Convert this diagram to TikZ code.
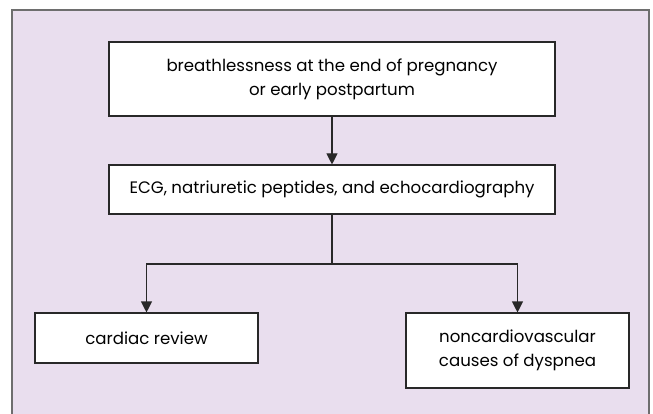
\documentclass[tikz,border=0pt]{standalone}
\usepackage{fontspec}
\setmainfont{Poppins}
\usetikzlibrary{arrows.meta,positioning}
\definecolor{lavender}{RGB}{233,222,238}
\definecolor{framegray}{RGB}{110,110,110}
\definecolor{boxline}{RGB}{40,40,40}
\tikzset{
  flowbox/.style={draw=boxline, fill=white, line width=1.1pt, align=center,
    inner sep=0pt, font=\fontsize{16.6}{24}\selectfont},
  flowarrow/.style={draw=boxline, line width=1.1pt, -{Triangle[length=11pt,width=11pt]}}
}
\begin{document}
\begin{tikzpicture}[x=1pt,y=-1pt]
\clip (0,0) rectangle (653,414);
\fill[white] (0,0) rectangle (653,414);
\draw[framegray, fill=lavender, line width=1.2pt] (12,10) rectangle (649,430);
\node[flowbox, minimum width=446pt, minimum height=74pt] (start) at (332,79)
  {breathlessness at the end of pregnancy\\or early postpartum};
\node[flowbox, minimum width=446pt, minimum height=49pt] (tests) at (332,189.5)
  {ECG, natriuretic peptides, and echocardiography};
\node[flowbox, minimum width=223pt, minimum height=50pt] (cardiac) at (146.5,338)
  {cardiac review};
\node[flowbox, minimum width=223pt, minimum height=75pt] (noncardiac) at (517.5,350.5)
  {noncardiovascular\\causes of dyspnea};
\coordinate (split) at (332,264);
\draw[flowarrow] (start) -- (tests);
\draw[draw=boxline, line width=1.1pt] (tests) -- (split);
\draw[flowarrow] (split) -| (cardiac.north);
\draw[flowarrow] (split) -| (noncardiac.north);
\end{tikzpicture}
\end{document}
